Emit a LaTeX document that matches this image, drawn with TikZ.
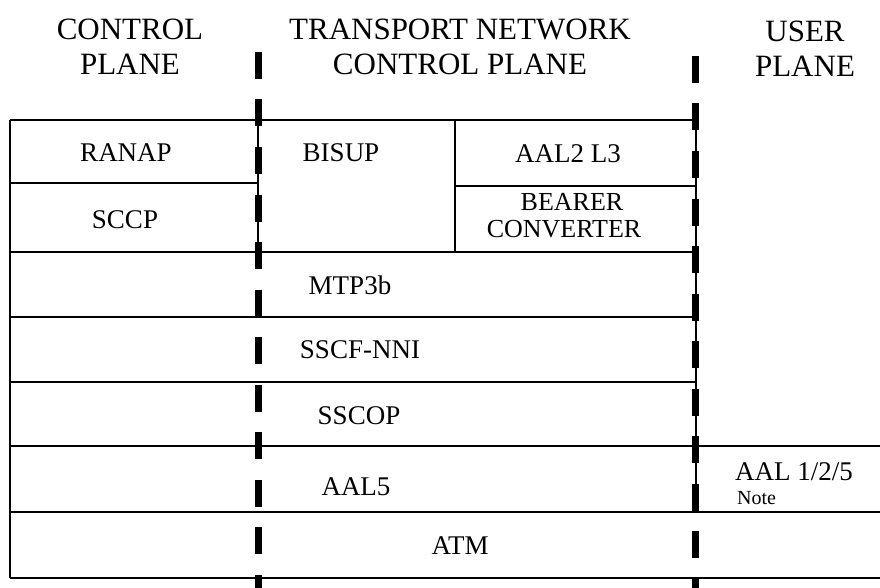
\documentclass[tikz,border=0pt]{standalone}
\usepackage{fontspec}
\setmainfont{Liberation Serif}
\begin{document}
\begin{tikzpicture}[x=1pt,y=-1pt,
  thinline/.style={line width=1.4pt,black},
  planesep/.style={line width=7pt,dash pattern=on 27pt off 20.5pt},
  title/.style={font=\fontsize{31}{35}\selectfont,align=center,inner sep=0pt},
  lbl/.style={font=\fontsize{27}{24}\selectfont,align=center,inner sep=0pt},
  note/.style={font=\fontsize{20}{22}\selectfont,inner sep=0pt,anchor=west}]
\useasboundingbox (0,0) rectangle (880,588);
% titles
\node[title] (cp) at (130,47) {CONTROL\\PLANE};
\node[title] (tn) at (460,47) {TRANSPORT NETWORK\\CONTROL PLANE};
\node[title] (up) at (805,49) {USER\\PLANE};
% table lines
\draw[thinline] (10,120) -- (696,120);
\draw[thinline] (10,183) -- (258,183);
\draw[thinline] (455,186) -- (696,186);
\draw[thinline] (10,252) -- (696,252);
\draw[thinline] (10,317) -- (696,317);
\draw[thinline] (10,382) -- (696,382);
\draw[thinline] (10,446) -- (880,446);
\draw[thinline] (10,512) -- (880,512);
\draw[thinline] (10,578) -- (880,578);
\draw[thinline] (10,120) -- (10,578);
\draw[thinline] (258,120) -- (258,252);
\draw[thinline] (455,120) -- (455,252);
\draw[thinline] (696,120) -- (696,512);
% plane separators
\draw[planesep] (258,52) -- (258,588);
\draw[planesep] (695,56) -- (695,588);
% labels
\node[lbl] (ranap) at (126,153) {RANAP};
\node[lbl] (sccp) at (125,220) {SCCP};
\node[lbl] (bisup) at (341,153) {BISUP};
\node[lbl] (aal2) at (568,154) {AAL2 L3};
\node[lbl,font=\fontsize{26}{24}\selectfont,anchor=base] (bearer) at (572,210) {BEARER};
\node[lbl,font=\fontsize{26}{24}\selectfont,anchor=base] (conv) at (564,237) {CONVERTER};
\node[lbl] (mtp) at (350,285) {MTP3b};
\node[lbl] (sscf) at (360,350) {SSCF-NNI};
\node[lbl] (sscop) at (359,416) {SSCOP};
\node[lbl] (aal5) at (356,487) {AAL5};
\node[lbl] (atm) at (460,546) {ATM};
\node[lbl] (aal125) at (794,472) {AAL 1/2/5};
\node[note] (nt) at (737,498) {Note};
\end{tikzpicture}
\end{document}
